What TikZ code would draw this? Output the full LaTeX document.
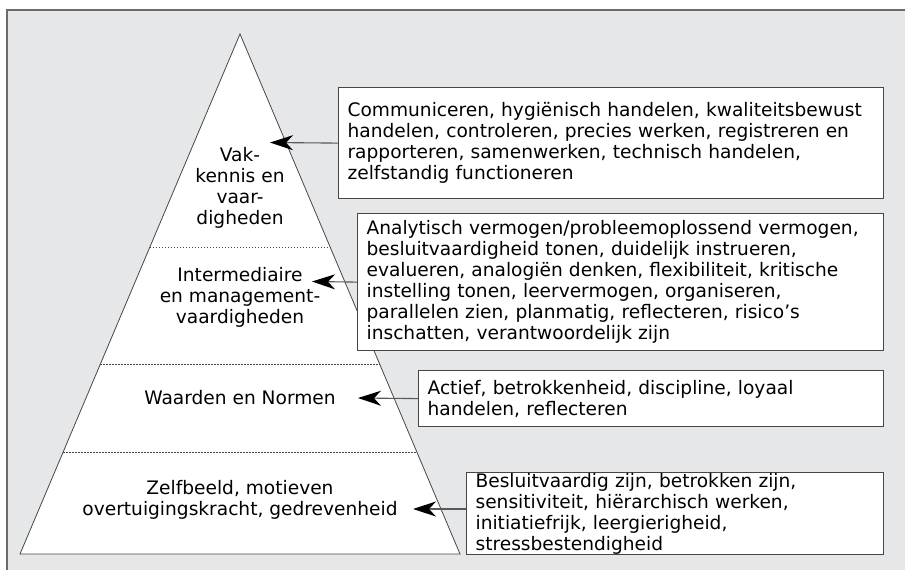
\documentclass[tikz,border=0pt]{standalone}
\usepackage{fontspec}
\setmainfont{DejaVu Sans}
\usetikzlibrary{arrows.meta,calc}
\definecolor{bg}{RGB}{230,231,232}
\definecolor{edge}{RGB}{70,70,70}
\begin{document}
\begin{tikzpicture}[x=1pt,y=-1pt,
  txt/.style={font=\fontsize{18.6}{21}\selectfont},
  box/.style={txt, draw=edge, line width=1.2pt, fill=white, anchor=north west, align=left, inner xsep=9pt, inner ysep=0pt},
  lbl/.style={txt, align=center, inner sep=0pt},
  conn/.style={draw=edge!90, line width=1.1pt, -{Stealth[length=23pt,width=15pt,inset=7pt,color=black]}},
  sep/.style={draw=edge, line width=0.8pt, dash pattern=on 1.6pt off 1.4pt},
  pyr/.style={draw=edge, line width=0.8pt, fill=white},
  frame/.style={draw=edge!80, line width=1.2pt}]
\useasboundingbox (0,0) rectangle (905,570);
\fill[bg] (7,10) rectangle (905,570);
\draw[frame] (7,570) -- (7,10) -- (905,10);
% pyramid
\coordinate (A) at (240,34);
\coordinate (L) at (20,554);
\coordinate (R) at (460,554);
\draw[pyr] (A) -- (L) -- (R) -- cycle;
\draw[sep] ($(A)!{213/520}!(L)$) -- ($(A)!{213/520}!(R)$);
\draw[sep] ($(A)!{330/520}!(L)$) -- ($(A)!{330/520}!(R)$);
\draw[sep] ($(A)!{418/520}!(L)$) -- ($(A)!{418/520}!(R)$);
% pyramid labels
\node[lbl] (p1) at (240,188) {Vak-\\kennis en\\vaar-\\digheden};
\node[lbl] (p2) at (240,297) {Intermediaire\\en management-\\vaardigheden};
\node[lbl] (p3) at (240,398) {Waarden en Normen};
\node[lbl] (p4) at (240,500) {Zelfbeeld, motieven\\overtuigingskracht, gedrevenheid};
% boxes
\node[box, text width=527pt, minimum height=111pt] (b1) at (338,87)
  {Communiceren, hygiënisch handelen, kwaliteitsbewust\\handelen, controleren, precies werken, registreren en\\rapporteren, samenwerken, technisch handelen,\\zelfstandig functioneren};
\node[box, text width=508pt, minimum height=137pt] (b2) at (357,213)
  {Analytisch vermogen/probleemoplossend vermogen,\\besluitvaardigheid tonen, duidelijk instrueren,\\evalueren, analogiën denken, flexibiliteit, kritische\\instelling tonen, leervermogen, organiseren,\\parallelen zien, planmatig, reflecteren, risico’s\\inschatten, verantwoordelijk zijn};
\node[box, text width=447pt, minimum height=56pt] (b3) at (418,370)
  {Actief, betrokkenheid, discipline, loyaal\\handelen, reflecteren};
\node[box, text width=399pt, minimum height=82pt] (b4) at (466,472)
  {Besluitvaardig zijn, betrokken zijn,\\sensitiviteit, hiërarchisch werken,\\initiatiefrijk, leergierigheid,\\stressbestendigheid};
% arrows
\coordinate (t1) at (270,142.5);
\coordinate (t2) at (312,281.5);
\coordinate (t3) at (358,398);
\coordinate (t4) at (413,509);
\draw[conn] (b1.west) -- (t1);
\draw[conn] (b2.west) -- (t2);
\draw[conn] (b3.west) -- (t3);
\draw[conn] (t4 -| b4.west) -- (t4);
\end{tikzpicture}
\end{document}
